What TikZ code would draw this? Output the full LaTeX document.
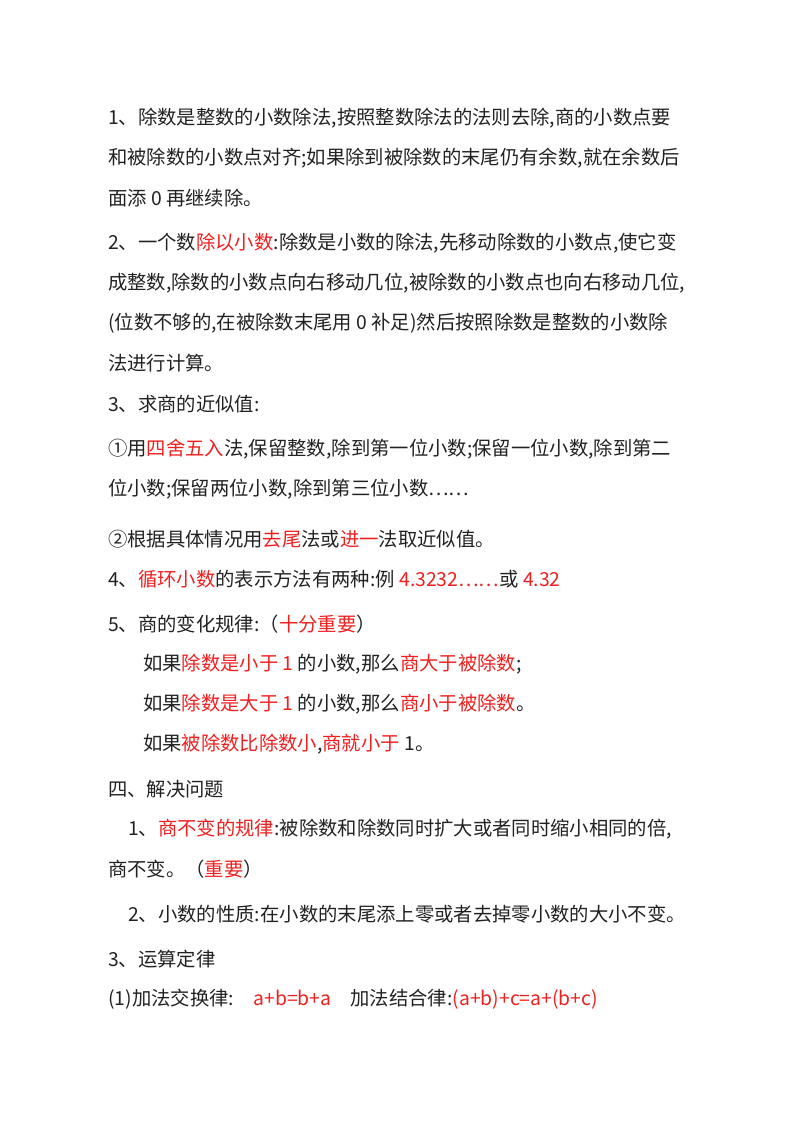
\documentclass[tikz,border=0pt]{standalone}
\usepackage{fontspec}
\setmainfont{Noto Sans CJK SC}
\definecolor{rd}{HTML}{F02020}
\definecolor{tx}{HTML}{222222}
\newcommand{\R}[1]{\textcolor{rd}{#1}}
\begin{document}
\begin{tikzpicture}[x=0.75pt,y=-0.75pt,
  ln/.style={anchor=west,inner sep=0pt,font=\fontsize{14.5pt}{17pt}\selectfont,text=tx}]
\useasboundingbox (0,0) rectangle (800,1132);
\fill[white] (0,0) rectangle (800,1132);
\node[ln] (l1) at (108,118) {1、除数是整数的小数除法,按照整数除法的法则去除,商的小数点要};
\node[ln] (l2) at (108,158) {和被除数的小数点对齐;如果除到被除数的末尾仍有余数,就在余数后};
\node[ln] (l3) at (108,198) {面添 0 再继续除。};
\node[ln] (l4) at (108,243) {2、一个数\R{除以小数}:除数是小数的除法,先移动除数的小数点,使它变};
\node[ln] (l5) at (108,283) {成整数,除数的小数点向右移动几位,被除数的小数点也向右移动几位,};
\node[ln] (l6) at (108,323) {(位数不够的,在被除数末尾用 0 补足)然后按照除数是整数的小数除};
\node[ln] (l7) at (108,363) {法进行计算。};
\node[ln] (l8) at (108,404) {3、求商的近似值:};
\node[ln] (l9) at (108,449) {①用\R{四舍五入}法,保留整数,除到第一位小数;保留一位小数,除到第二};
\node[ln] (l10) at (108,489) {位小数;保留两位小数,除到第三位小数……};
\node[ln] (l11) at (108,539) {②根据具体情况用\R{去尾}法或\R{进一}法取近似值。};
\node[ln] (l12) at (108,579) {4、\R{循环小数}的表示方法有两种:例 \R{4.3232……}或 \R{4.32}};
\node[ln] (l13) at (108,624) {5、商的变化规律:（\R{十分重要}）};
\node[ln] (l14) at (143,664) {如果\R{除数是小于 1} 的小数,那么\R{商大于被除数};};
\node[ln] (l15) at (143,704) {如果\R{除数是大于 1} 的小数,那么\R{商小于被除数}。};
\node[ln] (l16) at (143,744) {如果\R{被除数比除数小},\R{商就小于} 1。};
\node[ln] (l17) at (108,789) {四、解决问题};
\node[ln] (l18) at (128,829) {1、\R{商不变的规律}:被除数和除数同时扩大或者同时缩小相同的倍,};
\node[ln] (l19) at (108,869) {商不变。（\R{重要}）};
\node[ln] (l20) at (128,914) {2、小数的性质:在小数的末尾添上零或者去掉零小数的大小不变。};
\node[ln] (l21) at (108,959) {3、运算定律};
\node[ln] (l22) at (108,999) {(1)加法交换律:\quad\R{a+b=b+a}\quad 加法结合律:\R{(a+b)+c=a+(b+c)}};
\end{tikzpicture}
\end{document}
